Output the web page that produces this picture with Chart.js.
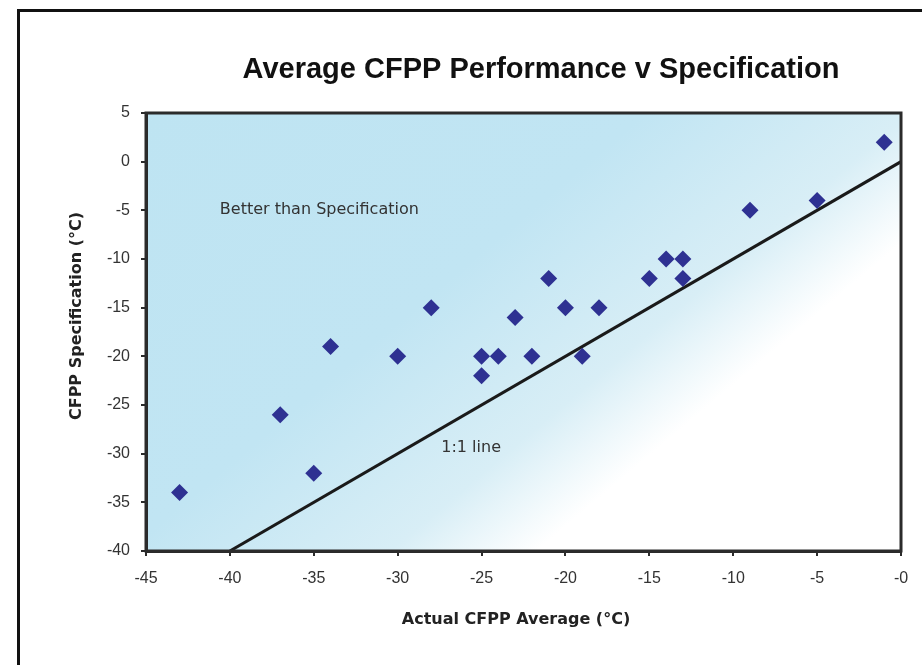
<!DOCTYPE html>
<html>
<head>
<meta charset="utf-8">
<script src="https://cdn.jsdelivr.net/npm/chart.js@4.4.1/dist/chart.umd.min.js"></script>
<style>
  html, body { margin: 0; padding: 0; background: #ffffff; }
  #wrap { width: 922px; height: 665px; }
</style>
</head>
<body>
<div id="wrap"><canvas id="cfppChart" width="922" height="665"></canvas></div>
<script>
// data
const actualAvg  = [-43, -37, -35, -34, -30, -28, -25, -25, -24, -23, -22, -21, -20, -19, -18, -15, -14, -13, -13, -9, -5, -1];
const specValues = [-34, -26, -32, -19, -20, -15, -20, -22, -20, -16, -20, -12, -15, -20, -15, -12, -10, -10, -12, -5, -4, 2];

const oneToOneX = [-40, 0];
const oneToOneY = [-40, 0];

const xTickLabels = ["-45", "-40", "-35", "-30", "-25", "-20", "-15", "-10", "-5", "-0"];
const yTickLabels = ["-40", "-35", "-30", "-25", "-20", "-15", "-10", "-5", "0", "5"];

const noteTexts = ["Better than Specification", "1:1 line"];
const noteX = [-40.6, -27.4];
const noteY = [-5, -29.4];

const chartTitle = "Average CFPP Performance v Specification";
const xTitle = "Actual CFPP Average (°C)";
const yTitle = "CFPP Specification (°C)";

const FONT = "'Liberation Sans', Arial, sans-serif";
const WIDE_FONT = "'DejaVu Sans', Verdana, sans-serif";
const AXIS_COLOR = "#2b2b2b";

// gradient plot background, frame, border, titles and notes
const decorPlugin = {
    id: "decor",
    beforeDraw(chart) {
        const { ctx, chartArea: a } = chart;
        ctx.save();
        ctx.fillStyle = "#ffffff";
        ctx.fillRect(0, 0, chart.width, chart.height);

        // diagonal fade, blue top-left to white bottom-right
        const len = 586;
        const grad = ctx.createLinearGradient(a.left, a.top, a.left + 0.645 * len, a.top + 0.765 * len);
        grad.addColorStop(0, "#bee4f2");
        grad.addColorStop(0.55, "#c1e5f3");
        grad.addColorStop(0.84, "#d8eef6");
        grad.addColorStop(1, "#ffffff");
        ctx.fillStyle = grad;
        ctx.fillRect(a.left, a.top, a.right - a.left, a.bottom - a.top);

        // outer frame
        ctx.strokeStyle = "#111111";
        ctx.lineWidth = 3;
        ctx.strokeRect(18.5, 10.5, 1000, 1000);
        ctx.restore();
    },
    afterDatasetsDraw(chart) {
        const { ctx, chartArea: a, scales } = chart;
        ctx.save();
        ctx.font = "16px " + WIDE_FONT;
        ctx.fillStyle = "#333333";
        ctx.textAlign = "left";
        ctx.textBaseline = "middle";
        noteTexts.forEach((t, i) => {
            ctx.fillText(t, scales.x.getPixelForValue(noteX[i]), scales.y.getPixelForValue(noteY[i]));
        });

        // plot area box
        ctx.strokeStyle = AXIS_COLOR;
        ctx.lineWidth = 3;
        ctx.strokeRect(a.left, a.top, a.right - a.left, a.bottom - a.top);

        // chart title
        ctx.font = "bold 29px " + FONT;
        ctx.fillStyle = "#111111";
        ctx.textAlign = "center";
        ctx.fillText(chartTitle, 541, 70);

        // axis titles
        ctx.font = "bold 16px " + WIDE_FONT;
        ctx.fillStyle = "#222222";
        ctx.fillText(xTitle, 516, 620);
        ctx.translate(77, 316);
        ctx.rotate(-Math.PI / 2);
        ctx.fillText(yTitle, 0, 0);
        ctx.restore();
    }
};

const ctx = document.getElementById("cfppChart").getContext("2d");

new Chart(ctx, {
    type: "scatter",
    data: {
        datasets: [
            {
                label: "CFPP",
                data: actualAvg.map((x, i) => ({ x: x, y: specValues[i] })),
                pointStyle: "rectRot",
                pointRadius: 8.5,
                pointHoverRadius: 8.5,
                backgroundColor: "#2e3192",
                borderColor: "#2e3192",
                borderWidth: 0,
                order: 1
            },
            {
                label: "1:1 line",
                type: "line",
                data: oneToOneX.map((x, i) => ({ x: x, y: oneToOneY[i] })),
                borderColor: "#1a1a1a",
                borderWidth: 3,
                pointRadius: 0,
                fill: false,
                order: 2
            }
        ]
    },
    options: {
        responsive: false,
        animation: false,
        layout: { padding: { top: 113, right: 21, left: 0, bottom: 0 } },
        plugins: {
            legend: { display: false },
            tooltip: { enabled: false }
        },
        scales: {
            x: {
                type: "linear",
                min: -45,
                max: 0,
                afterFit(scale) { scale.height = 114; },
                border: { display: true, color: AXIS_COLOR, width: 3 },
                grid: { drawOnChartArea: false, tickLength: 5, color: AXIS_COLOR, lineWidth: 2 },
                ticks: {
                    stepSize: 5,
                    padding: 13,
                    color: "#333333",
                    font: { family: FONT, size: 16 },
                    callback: (value, index) => xTickLabels[index]
                }
            },
            y: {
                type: "linear",
                min: -40,
                max: 5,
                afterFit(scale) { scale.width = 146; },
                border: { display: true, color: AXIS_COLOR, width: 3 },
                grid: { drawOnChartArea: false, tickLength: 5, color: AXIS_COLOR, lineWidth: 2 },
                ticks: {
                    stepSize: 5,
                    padding: 11,
                    color: "#333333",
                    font: { family: FONT, size: 16 },
                    callback: (value, index) => yTickLabels[index]
                }
            }
        }
    },
    plugins: [decorPlugin]
});
</script>
</body>
</html>
